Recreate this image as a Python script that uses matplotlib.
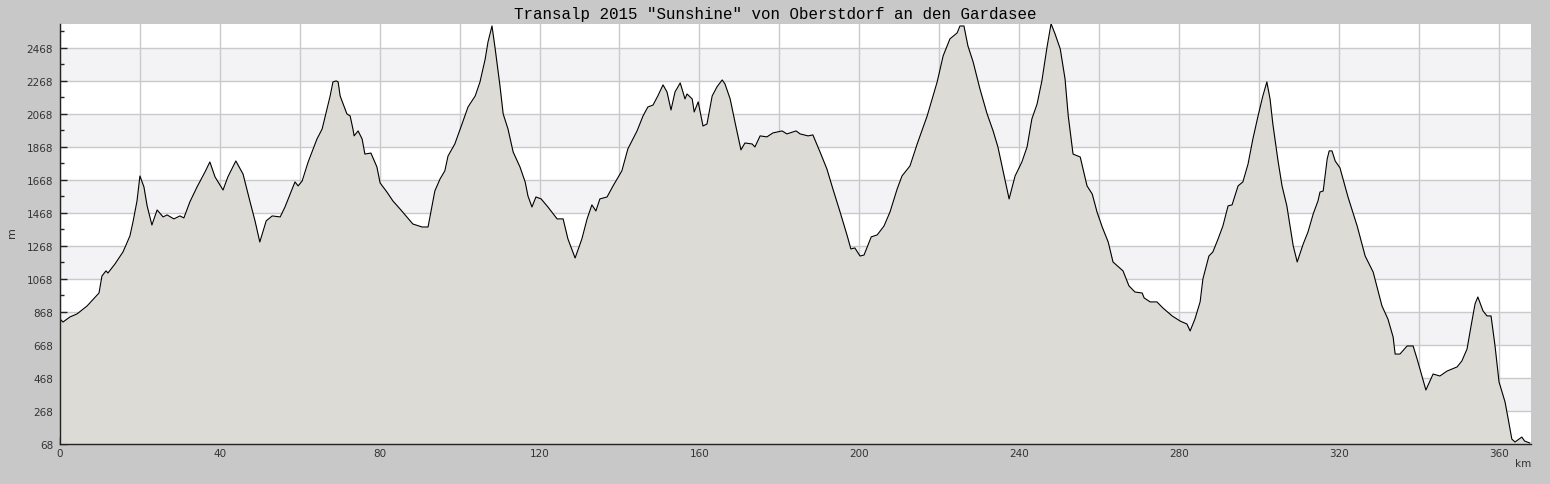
import matplotlib
matplotlib.use("Agg")
import matplotlib.pyplot as plt
from matplotlib.ticker import MultipleLocator, FixedLocator, FuncFormatter

title = 'Transalp 2015 "Sunshine" von Oberstdorf an den Gardasee'

km = [0.0, 0.75, 2.5, 4.25, 6.76, 9.76, 10.5, 11.5, 12.0, 13.76, 15.77, 17.5, 18.27, 19.27, 20.0,
      21.0, 21.8, 23.0, 24.3, 25.8, 26.8, 28.5, 30.0, 31.0, 32.5, 34.3, 36.3, 37.5, 38.8, 40.8,
      42.0, 44.0, 45.8, 47.5, 48.8, 50.0, 51.6, 53.1, 55.1, 56.3, 58.8, 59.6, 60.6, 62.1, 64.3,
      65.6, 67.6, 68.3, 69.1, 69.6, 70.1, 71.8, 72.6, 73.3, 73.6, 74.6, 75.6, 76.3, 77.8, 79.3,
      80.1, 81.8, 83.3, 85.1, 88.3, 90.6, 92.1, 93.1, 93.8, 95.1, 96.3, 97.1, 98.8, 100.6, 102.1,
      103.9, 105.1, 106.4, 107.1, 108.1, 108.9, 110.1, 110.9, 112.1, 113.4, 115.1, 116.4, 117.1, 118.1, 119.1,
      120.4, 122.1, 124.4, 125.9, 127.1, 128.9, 130.6, 131.9, 133.1, 134.1, 135.1, 136.9, 138.4, 140.6, 142.1,
      144.4, 145.9, 147.1, 148.4, 149.6, 150.9, 151.9, 152.9, 153.9, 155.2, 156.4, 156.9, 158.2, 158.7, 159.7,
      160.9, 161.9, 163.2, 164.4, 165.7, 166.4, 167.7, 168.9, 170.4, 171.4, 173.2, 173.9, 175.2, 176.9, 178.4,
      180.7, 181.9, 184.2, 185.2, 187.2, 188.4, 190.2, 191.9, 193.4, 195.2, 197.0, 197.9, 198.9, 200.2, 201.2,
      203.0, 204.5, 206.2, 207.7, 209.5, 210.7, 212.7, 214.5, 217.0, 219.5, 221.0, 222.7, 224.5, 225.2, 226.2,
      227.2, 228.5, 230.2, 232.0, 233.5, 234.7, 236.0, 237.5, 239.0, 240.7, 242.0, 243.2, 244.5, 245.7, 247.0,
      248.0, 249.0, 250.3, 251.5, 252.3, 253.5, 255.3, 257.0, 258.3, 259.5, 260.8, 262.3, 263.5, 266.0, 267.5,
      269.0, 270.8, 271.3, 272.8, 274.5, 276.0, 278.3, 280.3, 282.0, 282.8, 284.0, 285.3, 286.0, 287.5, 288.5,
      289.8, 291.0, 292.3, 293.3, 294.8, 296.0, 297.3, 298.5, 299.8, 301.0, 302.0, 302.8, 303.5, 304.8, 305.8,
      307.0, 307.8, 308.6, 309.6, 311.1, 312.3, 313.6, 314.8, 315.3, 316.1, 317.1, 317.6, 318.3, 319.1, 320.3,
      322.3, 324.6, 326.6, 328.6, 330.8, 332.3, 333.6, 334.1, 335.3, 337.1, 338.6, 339.6, 340.8, 341.8, 343.6,
      345.3, 347.1, 349.6, 350.8, 352.1, 353.1, 354.1, 354.8, 356.1, 357.1, 358.1, 359.1, 360.1, 361.6, 362.4,
      363.3, 364.1, 365.8, 366.5, 367.8]

elev = [825, 807, 838, 856, 904, 983, 1086, 1117, 1104, 1159, 1232, 1329, 1414, 1541, 1692,
        1626, 1511, 1395, 1486, 1444, 1456, 1432, 1450, 1438, 1535, 1626, 1717, 1777, 1686, 1607,
        1686, 1783, 1704, 1541, 1420, 1292, 1420, 1450, 1444, 1504, 1656, 1632, 1662, 1777, 1916,
        1977, 2177, 2262, 2268, 2262, 2177, 2068, 2056, 1977, 1935, 1965, 1916, 1825, 1831, 1747,
        1650, 1595, 1541, 1492, 1401, 1383, 1383, 1511, 1601, 1674, 1723, 1813, 1886, 2007, 2110,
        2177, 2262, 2401, 2504, 2601, 2462, 2238, 2068, 1977, 1837, 1747, 1656, 1571, 1504, 1565,
        1553, 1504, 1432, 1432, 1311, 1195, 1311, 1432, 1517, 1480, 1553, 1565, 1632, 1723, 1856,
        1965, 2056, 2110, 2122, 2177, 2244, 2201, 2092, 2201, 2256, 2159, 2189, 2159, 2080, 2141,
        1995, 2007, 2177, 2232, 2274, 2250, 2159, 2019, 1850, 1892, 1886, 1868, 1935, 1929, 1953,
        1965, 1947, 1965, 1947, 1935, 1941, 1837, 1735, 1614, 1474, 1329, 1250, 1256, 1207, 1213,
        1323, 1335, 1389, 1474, 1614, 1692, 1753, 1886, 2056, 2262, 2420, 2523, 2559, 2601, 2601,
        2480, 2383, 2220, 2068, 1965, 1868, 1723, 1553, 1692, 1777, 1868, 2038, 2128, 2268, 2474,
        2615, 2553, 2462, 2280, 2056, 1825, 1807, 1632, 1583, 1474, 1383, 1292, 1171, 1117, 1026,
        989, 983, 953, 929, 929, 892, 844, 813, 795, 753, 825, 929, 1068, 1207, 1232,
        1311, 1389, 1511, 1517, 1632, 1656, 1765, 1916, 2056, 2177, 2262, 2159, 2007, 1783, 1632,
        1511, 1389, 1268, 1171, 1280, 1353, 1462, 1541, 1595, 1601, 1795, 1844, 1844, 1783, 1741,
        1565, 1389, 1207, 1110, 905, 825, 716, 613, 613, 662, 662, 583, 480, 395, 492,
        480, 510, 535, 571, 644, 783, 917, 959, 874, 844, 844, 662, 444, 323, 219,
        98, 80, 110, 86, 74]

y_ticks = [68, 268, 468, 668, 868, 1068, 1268, 1468, 1668, 1868, 2068, 2268, 2468]
y_minor = [168, 368, 568, 768, 968, 1168, 1368, 1568, 1768, 1968, 2168, 2368, 2568]
x_label_step = 40

W, H = 1550, 485
fig = plt.figure(figsize=(W / 100, H / 100), dpi=100, facecolor='#c8c8c8')
ax = fig.add_axes([60 / W, 40 / H, 1471 / W, 420 / H])
ax.set_facecolor('white')

ax.set_xlim(0, 368.1)
ax.set_ylim(68, 2613)

# alternating bands
for lo in y_ticks[1::2]:
    ax.axhspan(lo, lo + 200, color='#f3f2f5', lw=0, zorder=0)

ax.set_axisbelow(True)
ax.grid(True, which='major', color='#cacaca', lw=1.0)

ax.fill_between(km, elev, y_ticks[0], color='#dcdbd6', lw=0, zorder=2)
ax.plot(km, elev, color='black', lw=0.8, zorder=3)

ax.xaxis.set_major_locator(MultipleLocator(20))
ax.xaxis.set_minor_locator(MultipleLocator(10))
ax.xaxis.set_major_formatter(FuncFormatter(
    lambda v, p: f"{int(round(v))}" if int(round(v)) % x_label_step == 0 else ""))
ax.yaxis.set_major_locator(FixedLocator(y_ticks))
ax.yaxis.set_minor_locator(FixedLocator(y_minor))
ax.yaxis.set_major_formatter(FuncFormatter(lambda v, p: f"{int(round(v))}"))

for s in ['top', 'right']:
    ax.spines[s].set_visible(False)
for s in ['left', 'bottom']:
    ax.spines[s].set_color('#222222')
    ax.spines[s].set_linewidth(1.0)
    ax.spines[s].set_zorder(4)

ax.tick_params(which='major', direction='in', length=5, width=1, color='#222222',
               labelsize=7.5, labelcolor='#333333')
ax.tick_params(which='minor', direction='in', length=3, width=1, color='#222222')
ax.tick_params(axis='y', pad=5)
ax.tick_params(axis='x', pad=3)

ax.annotate('km', xy=(1, 0), xycoords='axes fraction', xytext=(0, -14),
            textcoords='offset points', ha='right', va='center', fontsize=7.5, color='#333333')
fig.text(12 / W, 1 - 233 / H, 'm', rotation=90, ha='center', va='center',
         fontsize=8, color='#333333')
fig.text(0.5, 1 - 14 / H, title, ha='center', va='center',
         family='Liberation Mono', fontsize=11.4, color='black')

fig.savefig('out.png', dpi=100, facecolor=fig.get_facecolor())
